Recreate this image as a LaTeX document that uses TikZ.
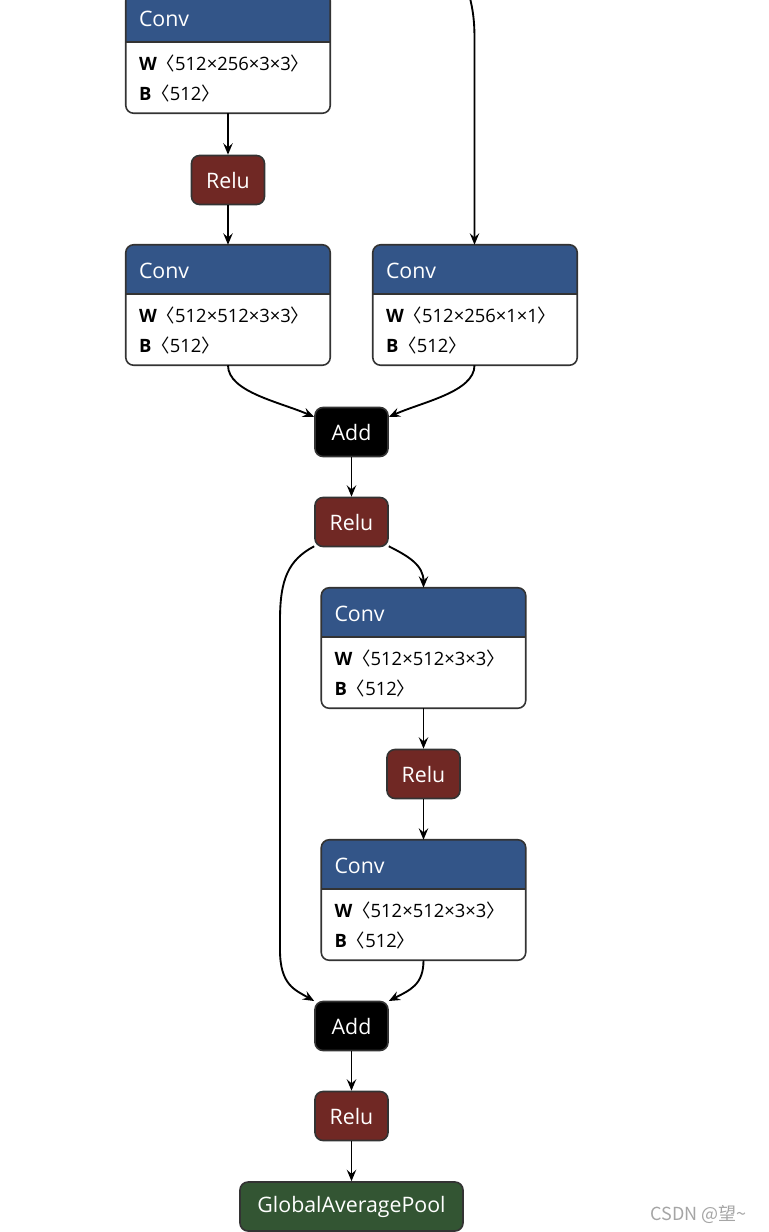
\documentclass[tikz,border=0pt]{standalone}
\usepackage{fontspec}
\setmainfont{Open Sans}
\newfontfamily\cjk{Noto Sans CJK SC}
\usetikzlibrary{calc,arrows.meta}
\definecolor{convblue}{RGB}{51,85,136}
\definecolor{relured}{RGB}{112,40,36}
\definecolor{poolgreen}{RGB}{51,85,51}
\definecolor{bordergray}{RGB}{51,51,51}
\definecolor{wmgray}{RGB}{165,165,165}
\newcommand\titlefont{\fontsize{16}{19}\selectfont}
\newcommand\detfont{\fontsize{13.8}{16}\selectfont}
\tikzset{
  arr/.style={line width=1.4pt, -{Stealth[length=8.5pt,width=7pt,inset=3pt]}},
  opnode/.style={draw=bordergray, line width=1.2pt, rounded corners=6pt,
    minimum width=54.75pt, minimum height=36.75pt, inner sep=0pt,
    text=white, font=\titlefont},
  relunode/.style={opnode, fill=relured},
  addnode/.style={opnode, fill=black},
  poolnode/.style={opnode, fill=poolgreen, minimum width=167.25pt},
  convframe/.style={draw=none, minimum width=153pt, minimum height=90pt, inner sep=0pt},
  convtitle/.style={anchor=west, inner sep=0pt, text=white, font=\titlefont},
  convdet/.style={anchor=west, inner sep=0pt, text=black, font=\detfont},
  borderline/.style={draw=bordergray, line width=1.2pt},
}
\newcommand\mkconv[4]{%
  \node[convframe] (#1) at (#2,#3+60) {};
  \begin{scope}
    \clip[rounded corners=6pt] (#1.north west) rectangle (#1.south east);
    \fill[white] (#1.north west) rectangle (#1.south east);
    \fill[convblue] (#1.north west) rectangle ($(#1.north east)+(0,49)$);
  \end{scope}
  \draw[borderline] ($(#1.north west)+(0,49)$) -- ($(#1.north east)+(0,49)$);
  \draw[borderline, rounded corners=6pt] (#1.north west) rectangle (#1.south east);
  \node[convtitle] (#1t) at ($(#1.north west)+(13,26)$) {Conv};
  \node[convdet] (#1w) at ($(#1.north west)+(13,71)$) {\textbf{W}{\cjk 〈}#4{\cjk 〉}};
  \node[convdet] (#1b) at ($(#1.north west)+(13,101)$) {\textbf{B}{\cjk 〈}512{\cjk 〉}};
}
\begin{document}
\begin{tikzpicture}[x=0.75pt, y=-0.75pt]
\useasboundingbox (0,0) rectangle (768,1232);
\clip (0,0) rectangle (768,1232);

% nodes
\mkconv{c1}{228}{-7}{512×256×3×3}
\node[relunode] (r1) at (228,180) {Relu};
\mkconv{c2}{228}{245}{512×512×3×3}
\mkconv{c3}{475}{245}{512×256×1×1}
\node[addnode] (a1) at (351.5,432) {Add};
\node[relunode] (r2) at (351.5,522) {Relu};
\mkconv{c4}{423.5}{588}{512×512×3×3}
\node[relunode] (r3) at (423.5,774) {Relu};
\mkconv{c5}{423.5}{840}{512×512×3×3}
\node[addnode] (a2) at (351.5,1026) {Add};
\node[relunode] (r4) at (351.5,1116) {Relu};
\node[poolnode] (gap) at (351.5,1206.5) {GlobalAveragePool};

\coordinate (topin) at (469,-6);
\coordinate (gapout) at (351.5,1245);

% connectors
\draw[arr] (c1.south) -- (r1.north);
\draw[arr] (r1.south) -- (c2.north);
\draw[arr] (topin) .. controls (473,10) and (474.5,20) .. (474.5,40) -- (c3.north -| 474.5,0);
\draw[arr] (c2.south) .. controls (228,392) and (280,402) .. ($(a1.west)+(0,-15)$);
\draw[arr] (c3.south -| 474.5,0) .. controls (474.5,392) and (422,402) .. ($(a1.east)+(0,-15)$);
\draw[arr] (a1.south) -- (r2.north);
\draw[arr] ($(r2.south east)+(0,-1)$) .. controls (408,556) and (423.5,565) .. (c4.north);
\draw[arr] ($(r2.south west)+(0,-1)$) .. controls (288,560) and (280,580) .. (280,620)
   -- (280,950) .. controls (280,985) and (295,990) .. ($(a2.west)+(0,-25)$);
\draw[arr] (c4.south) -- (r3.north);
\draw[arr] (r3.south) -- (c5.north);
\draw[arr] (c5.south) .. controls (423.5,985) and (410,990) .. ($(a2.east)+(0,-25)$);
\draw[arr] (a2.south) -- (r4.north);
\draw[arr] (r4.south) -- (gap.north);
\draw[line width=1.4pt] (gap.south) -- (gapout);

% watermark
\node[anchor=west, inner sep=0pt, text=wmgray, font={\cjk\fontsize{13.5}{15}\selectfont}] (wm) at (650,1214) {CSDN @望\string~};
\end{tikzpicture}
\end{document}
